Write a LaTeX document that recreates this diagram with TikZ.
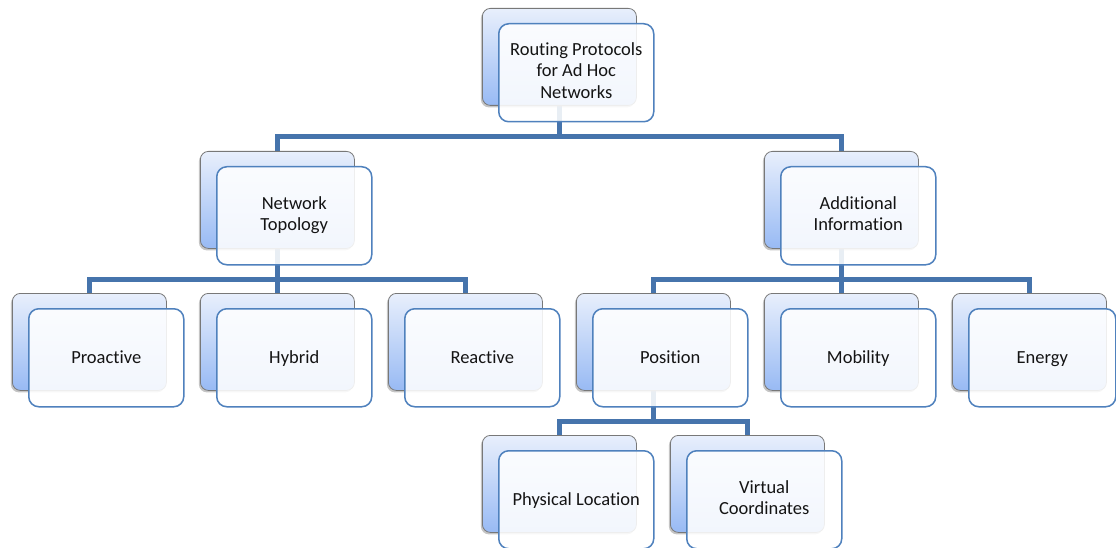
\documentclass[tikz,border=0pt]{standalone}
\usepackage{fontspec}
\setmainfont[Ligatures=NoCommon]{Carlito}
\usetikzlibrary{shadows,calc}
\definecolor{linkblue}{RGB}{70,116,172}
\definecolor{frameblue}{RGB}{79,129,189}
\definecolor{backtop}{RGB}{232,239,252}
\definecolor{backbot}{RGB}{152,186,244}
\definecolor{backedge}{RGB}{120,120,120}
\definecolor{labeltext}{RGB}{20,20,20}
\pgfdeclarelayer{links}
\pgfsetlayers{links,main}
% fixed line struts so every label sits at the same height
\newcommand{\topstrut}{\rule{0pt}{16pt}}
\newcommand{\botstrut}{\rule[-4.5pt]{0pt}{4.5pt}}
\tikzset{
  backcard/.style={anchor=north west, inner sep=0pt,
    minimum width=154pt, minimum height=97pt,
    rounded corners=8pt, draw=backedge, line width=0.8pt,
    top color=backtop, bottom color=backbot,
    drop shadow={shadow xshift=-1.5pt, shadow yshift=-2pt, opacity=0.45}},
  frontcard/.style={anchor=north west, inner sep=0pt,
    minimum width=155pt, minimum height=98pt,
    rounded corners=10pt, draw=frameblue, line width=1.5pt,
    fill=white, fill opacity=0.88, text opacity=1,
    text=labeltext, align=center,
    font=\fontsize{18.5}{21.5}\selectfont,
    execute at begin node=\topstrut, execute at end node=\botstrut},
  link/.style={draw=linkblue, line width=5pt, line join=miter}
}
% one card: back plate plus front label plate
\newcommand{\card}[5][]{%
  \node[backcard] (#2-b) at (#3,#4) {};
  \node[frontcard,#1] (#2) at (#3+16,#4+15) {#5};
}
\begin{document}
\begin{tikzpicture}[x=1pt,y=-1pt]
  \clip (0,0) rectangle (1116,548);

  % level 1
  \card{root}{482}{8}{Routing Protocols\\for Ad Hoc\\Networks}
  % level 2
  \card{topo}{200}{151}{Network\\Topology}
  \card{info}{764}{151}{Additional\\Information}
  % level 3
  \card{pro}{12}{293}{Proactive}
  \card{hyb}{200}{293}{Hybrid}
  \card{rea}{388}{293}{Reactive}
  \card{pos}{576}{293}{Position}
  \card{mob}{764}{293}{Mobility}
  \card[minimum width=147pt]{ene}{952}{293}{Energy}
  % level 4
  \card{phy}{482}{435}{Physical Location}
  \card{vir}{670}{435}{Virtual\\Coordinates}

  % bus lines, halfway between a front plate and the next row
  \coordinate (bus1) at ($(root.south)!0.5!(topo-b.north)$);
  \coordinate (bus2) at ($(topo.south)!0.5!(hyb-b.north)$);
  \coordinate (bus3) at ($(info.south)!0.5!(mob-b.north)$);
  \coordinate (bus4) at ($(pos.south)!0.5!(phy-b.north)$);

  \begin{pgfonlayer}{links}
    \fill[white] (0,0) rectangle (1116,548);
    \draw[link] (root-b.south) -- (root-b.south |- bus1) -| (topo-b.north);
    \draw[link] (root-b.south |- bus1) -| (info-b.north);
    \draw[link] (topo-b.south) -- (topo-b.south |- bus2) -| (pro-b.north);
    \draw[link] (topo-b.south |- bus2) -| (rea-b.north);
    \draw[link] (topo-b.south |- bus2) -- (hyb-b.north);
    \draw[link] (info-b.south) -- (info-b.south |- bus3) -| (pos-b.north);
    \draw[link] (info-b.south |- bus3) -| (ene-b.north);
    \draw[link] (info-b.south |- bus3) -- (mob-b.north);
    \draw[link] (pos-b.south) -- (pos-b.south |- bus4) -| (phy-b.north);
    \draw[link] (pos-b.south |- bus4) -| (vir-b.north);
  \end{pgfonlayer}
\end{tikzpicture}
\end{document}
